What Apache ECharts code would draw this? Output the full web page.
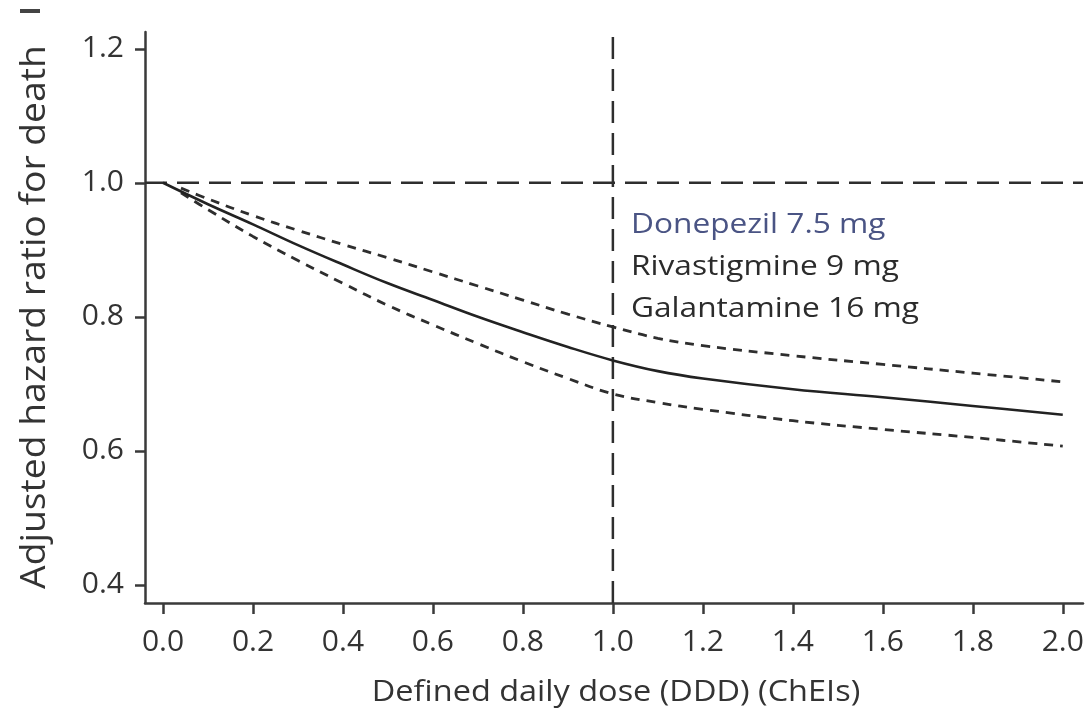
<!DOCTYPE html>
<html>
<head>
<meta charset="utf-8">
<script src="https://cdn.jsdelivr.net/npm/echarts@6/dist/echarts.min.js"></script>
<style>html,body{margin:0;padding:0;background:#fff}#c{width:1092px;height:714px}</style>
</head>
<body>
<div id="c"></div>
<script>
// ---- data ----
const doseX      = [0.0, 0.1, 0.2, 0.3, 0.4, 0.5, 0.6, 0.7, 0.8, 0.9, 1.0, 1.1, 1.2, 1.4, 1.6, 1.8, 2.0];
const hrMain     = [1.0, 0.968, 0.938, 0.907, 0.878, 0.850, 0.825, 0.800, 0.777, 0.755, 0.735, 0.719, 0.708, 0.692, 0.680, 0.667, 0.654];
const ciX        = [0.04, 0.1, 0.2, 0.3, 0.4, 0.5, 0.6, 0.7, 0.8, 0.9, 1.0, 1.1, 1.2, 1.4, 1.6, 1.8, 2.0];
const ciUpper    = [0.992, 0.976, 0.951, 0.929, 0.908, 0.888, 0.867, 0.846, 0.825, 0.804, 0.785, 0.768, 0.757, 0.742, 0.729, 0.716, 0.703];
const ciLower    = [0.985, 0.960, 0.920, 0.884, 0.850, 0.817, 0.788, 0.760, 0.733, 0.708, 0.685, 0.672, 0.662, 0.645, 0.632, 0.620, 0.607];
const xTicks     = [0.0, 0.2, 0.4, 0.6, 0.8, 1.0, 1.2, 1.4, 1.6, 1.8, 2.0];
const yTicks     = [0.4, 0.6, 0.8, 1.0, 1.2];
const refHR      = 1.0;
const refDDD     = 1.0;
const annotLines = ['Donepezil 7.5 mg', 'Rivastigmine 9 mg', 'Galantamine 16 mg'];
const xTitle     = 'Defined daily dose (DDD) (ChEIs)';
const yTitle     = 'Adjusted hazard ratio for death';

const X_MIN = -0.04, X_MAX = 2.045, Y_MIN = 0.373, Y_MAX = 1.225;
const FONT = '"Open Sans", "Noto Sans", sans-serif';
const INK = '#333333';

const zip = (a, b) => a.map((v, i) => [v, b[i]]);

const chart = echarts.init(document.getElementById('c'), null, {renderer: 'canvas'});
chart.setOption({
  animation: false,
  backgroundColor: '#ffffff',
  grid: {left: 145, top: 32, right: 9, bottom: 111, containLabel: false},
  xAxis: {
    type: 'value', min: X_MIN, max: X_MAX,
    axisLine: {show: true, onZero: false, lineStyle: {color: '#3a3a3a', width: 2.5}},
    axisTick: {show: true, length: 11, inside: false, customValues: xTicks, lineStyle: {color: '#3a3a3a', width: 2.5}},
    axisLabel: {show: true, customValues: xTicks, margin: 24, fontSize: 30, color: INK, fontFamily: FONT,
      formatter: v => v.toFixed(1)},
    splitLine: {show: false}
  },
  yAxis: {
    type: 'value', min: Y_MIN, max: Y_MAX,
    axisLine: {show: true, onZero: false, lineStyle: {color: '#3a3a3a', width: 2.5}},
    axisTick: {show: true, length: 10, customValues: yTicks, lineStyle: {color: '#3a3a3a', width: 2.5}},
    axisLabel: {show: true, customValues: yTicks, margin: 21, fontSize: 30, color: INK, fontFamily: FONT,
      formatter: v => v.toFixed(1)},
    splitLine: {show: false}
  },
  series: [
    {type: 'line', data: [[X_MIN, refHR], [X_MAX, refHR]], symbol: 'none', silent: true,
      lineStyle: {color: '#2e2e2e', width: 2.5, type: [22, 10]}},
    {type: 'line', data: [[refDDD, Y_MIN], [refDDD, 1.22]], symbol: 'none', silent: true,
      lineStyle: {color: '#2e2e2e', width: 2.5, type: [22, 10]}},
    {type: 'line', data: zip(ciX, ciUpper), symbol: 'none', smooth: 0.4,
      lineStyle: {color: '#2e2e2e', width: 2.8, type: [9, 7]}},
    {type: 'line', data: zip(ciX, ciLower), symbol: 'none', smooth: 0.4,
      lineStyle: {color: '#2e2e2e', width: 2.8, type: [9, 7]}},
    {type: 'line', data: zip(doseX, hrMain), symbol: 'none', smooth: 0.4,
      lineStyle: {color: '#222222', width: 2.6, type: 'solid'}}
  ],
  graphic: [
    {type: 'text', x: 631, y: 225, scaleX: 1.13, style: {text: annotLines[0], fontSize: 28, fill: '#4a5484', fontFamily: FONT, align: 'left', verticalAlign: 'middle'}},
    {type: 'text', x: 631, y: 267, scaleX: 1.13, style: {text: annotLines[1], fontSize: 28, fill: '#2b2b2b', fontFamily: FONT, align: 'left', verticalAlign: 'middle'}},
    {type: 'text', x: 631, y: 309, scaleX: 1.13, style: {text: annotLines[2], fontSize: 28, fill: '#2b2b2b', fontFamily: FONT, align: 'left', verticalAlign: 'middle'}},
    {type: 'text', x: 616, y: 693, scaleX: 1.12, style: {text: xTitle, fontSize: 29, fill: INK, fontFamily: FONT, align: 'center', verticalAlign: 'middle'}},
    {type: 'text', x: 35, y: 317, rotation: Math.PI / 2, scaleX: 1.065, style: {text: yTitle, fontSize: 35, fill: INK, fontFamily: FONT, align: 'center', verticalAlign: 'middle'}},
    {type: 'rect', x: 20, y: 9, shape: {x: 0, y: 0, width: 20, height: 4}, style: {fill: '#444'}}
  ]
});
</script>
</body>
</html>
